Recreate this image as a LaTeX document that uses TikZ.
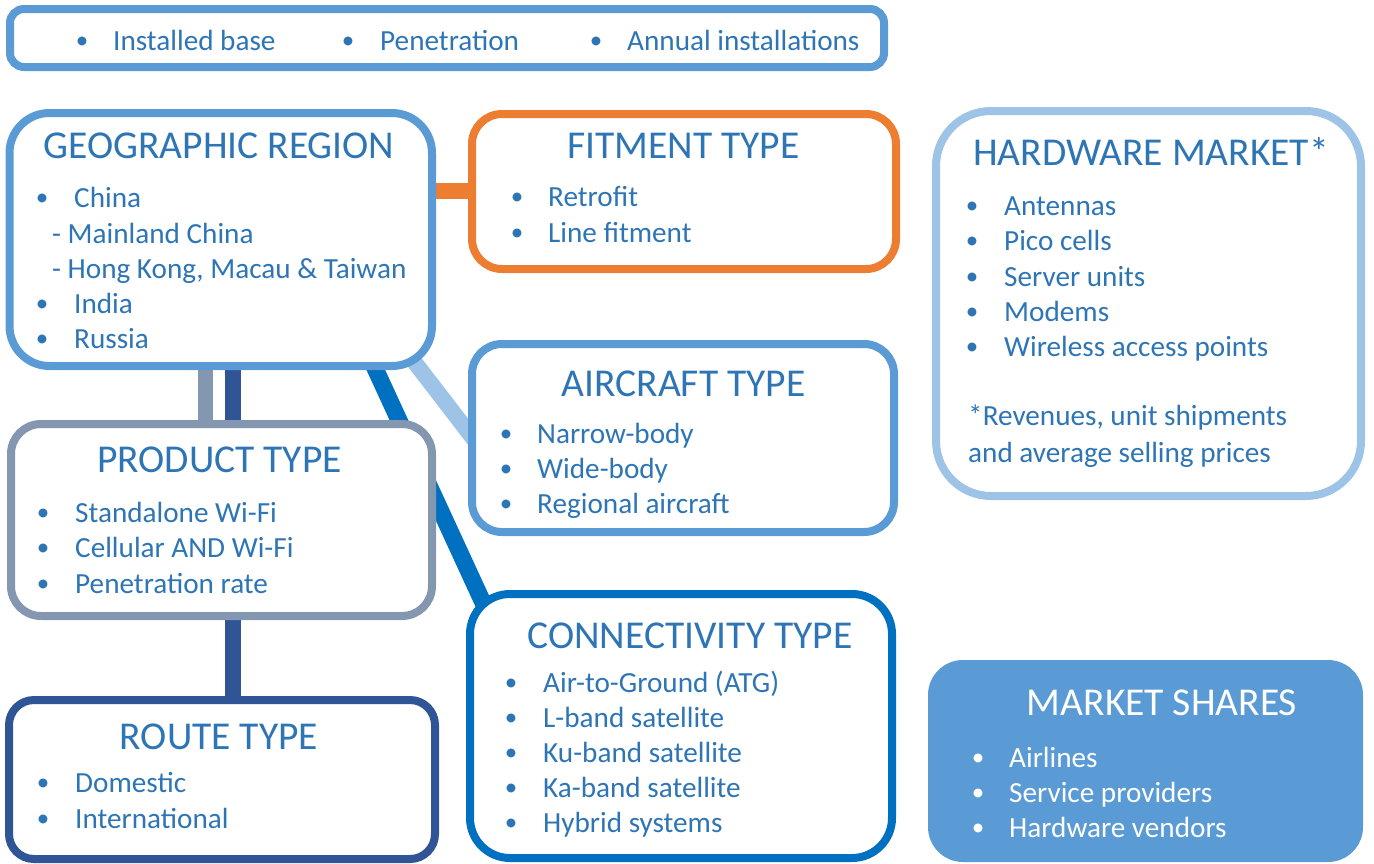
\documentclass[tikz,border=0pt]{standalone}
\usepackage{fontspec}
\setmainfont{Carlito}
\usetikzlibrary{backgrounds}

\definecolor{boxblue}{HTML}{5B9BD5}
\definecolor{txtblue}{HTML}{2E75B6}
\definecolor{fitorange}{HTML}{ED7D31}
\definecolor{prodgray}{HTML}{8497B0}
\definecolor{routeblue}{HTML}{2F5597}
\definecolor{connblue}{HTML}{0070C0}
\definecolor{paleblue}{HTML}{9DC3E6}

\tikzset{
  panel/.style={draw=#1, line width=8pt, fill=white, rectangle, inner sep=0pt},
  solidpanel/.style={draw=none, fill=#1, rectangle, inner sep=0pt},
  heading/.style={anchor=base, inner sep=0pt, text=txtblue, font=\fontsize{39.5}{47}\selectfont},
  itemtxt/.style={anchor=base west, inner sep=0pt, text=txtblue, font=\fontsize{29.2}{35}\selectfont},
  dot/.style={anchor=base, inner sep=0pt, yshift=1.5pt, text=txtblue, font=\fontsize{25}{30}\selectfont},
  link/.style={line width=#1},
}

% panel: name, style, left, top, right, bottom, corner radius
\newcommand\mkpanel[7]{%
  \node[#2, rounded corners=#7, minimum width={#5-#3}, minimum height={#6-#4}]
    (#1) at ({(#3+#5)/2},{(#4+#6)/2}) {};}
% bulleted line: name, bullet x, text x, baseline, text, extra style
\newcommand\bitem[6][]{%
  \node[dot,#1] (#2-b) at (#3,#5) {•};
  \node[itemtxt,#1] (#2) at (#4,#5) {#6};}

\begin{document}
\begin{tikzpicture}[x=1pt,y=-1pt]
\useasboundingbox (0,0) rectangle (1374,863);

% ---- panels ----
\mkpanel{top}{panel=boxblue}{10}{9}{884}{67}{14}
\mkpanel{geo}{panel=boxblue}{9.5}{113}{432}{366}{40}
\mkpanel{fit}{panel=fitorange}{472}{114}{896}{269}{30}
\mkpanel{air}{panel=boxblue}{472}{344}{894}{532}{30}
\mkpanel{hw}{panel=paleblue}{936}{111}{1361}{496}{55}
\mkpanel{prod}{panel=prodgray}{11}{424}{432}{616}{30}
\mkpanel{conn}{panel=connblue}{470}{594}{892}{858}{40}
\mkpanel{route}{panel=routeblue}{9}{700}{435}{859}{25}
\mkpanel{mkt}{solidpanel=boxblue}{928}{660}{1363}{862}{35}

% ---- connectors (behind the panels) ----
\coordinate (oy) at (0,191);
\coordinate (gx) at (205.5,0);
\coordinate (dx) at (232.5,0);
\coordinate (geo-c) at (362,340);
\coordinate (conn-c) at (491,620);
\coordinate (geo-p) at (396,338);
\coordinate (air-p) at (486,455);
\begin{pgfonlayer}{background}
  \draw[link=16pt, fitorange] (geo |- oy) -- (fit |- oy);
  \draw[link=15pt, prodgray] (gx |- geo) -- (gx |- prod);
  \draw[link=16pt, routeblue] (dx |- geo) -- (dx |- route);
  \draw[link=17pt, connblue] (geo-c) -- (conn-c);
  \draw[link=16pt, paleblue] (geo-p) -- (air-p);
\end{pgfonlayer}

% ---- top strip ----
\bitem{top-1}{82}{113}{50}{Installed base}
\bitem{top-2}{348}{380}{50}{Penetration}
\bitem{top-3}{596}{627}{50}{Annual installations}

% ---- geographic region ----
\node[heading] (geo-t) at (219,158) {GEOGRAPHIC REGION};
\bitem{geo-1}{42}{74}{207}{China}
\node[itemtxt] (geo-1a) at (52,243) {- Mainland China};
\node[itemtxt] (geo-1b) at (52,278) {- Hong Kong, Macau \& Taiwan};
\bitem{geo-2}{42}{74}{313}{India}
\bitem{geo-3}{42}{74}{348}{Russia}

% ---- fitment type ----
\node[heading] (fit-t) at (683.5,158) {FITMENT TYPE};
\bitem{fit-1}{517}{548}{206}{Retrofit}
\bitem{fit-2}{517}{548}{242}{Line fitment}

% ---- aircraft type ----
\node[heading] (air-t) at (683.5,396) {AIRCRAFT TYPE};
\bitem{air-1}{506}{537}{443}{Narrow-body}
\bitem{air-2}{506}{537}{478}{Wide-body}
\bitem{air-3}{506}{537}{513}{Regional aircraft}

% ---- hardware market ----
\node[heading] (hw-t) at (1151,165) {HARDWARE MARKET*};
\bitem{hw-1}{972}{1004}{215}{Antennas}
\bitem{hw-2}{972}{1004}{250}{Pico cells}
\bitem{hw-3}{972}{1004}{286}{Server units}
\bitem{hw-4}{972}{1004}{321}{Modems}
\bitem{hw-5}{972}{1004}{356}{Wireless access points}
\node[itemtxt] (hw-n1) at (968,425) {*Revenues, unit shipments};
\node[itemtxt] (hw-n2) at (968,462) {and average selling prices};

% ---- product type ----
\node[heading] (prod-t) at (219.5,472) {PRODUCT TYPE};
\bitem{prod-1}{43}{75}{522}{Standalone Wi-Fi}
\bitem{prod-2}{43}{75}{557}{Cellular AND Wi-Fi}
\bitem{prod-3}{43}{75}{593}{Penetration rate}

% ---- connectivity type ----
\node[heading] (conn-t) at (690,648) {CONNECTIVITY TYPE};
\bitem{conn-1}{511}{543}{692}{Air-to-Ground (ATG)}
\bitem{conn-2}{511}{543}{727}{L-band satellite}
\bitem{conn-3}{511}{543}{762}{Ku-band satellite}
\bitem{conn-4}{511}{543}{797}{Ka-band satellite}
\bitem{conn-5}{511}{543}{832}{Hybrid systems}

% ---- route type ----
\node[heading] (route-t) at (219,749) {ROUTE TYPE};
\bitem{route-1}{43}{75}{792}{Domestic}
\bitem{route-2}{43}{75}{828}{International}

% ---- market shares ----
\node[heading, text=white] (mkt-t) at (1162,715) {MARKET SHARES};
\bitem[text=white]{mkt-1}{978}{1009}{767}{Airlines}
\bitem[text=white]{mkt-2}{978}{1009}{802}{Service providers}
\bitem[text=white]{mkt-3}{978}{1009}{837}{Hardware vendors}
\end{tikzpicture}
\end{document}
